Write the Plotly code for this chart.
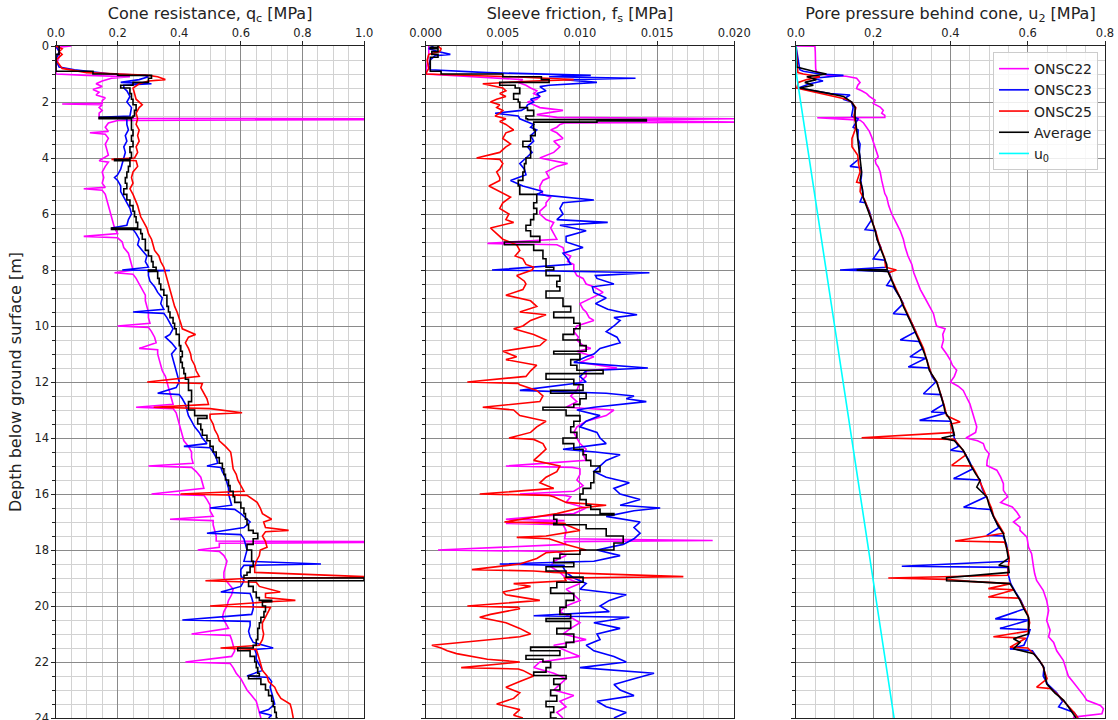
import plotly.graph_objects as go

# ---------------- data: (depth [m], value [MPa]) ----------------
QC_ONSC22 = [(0,0.05),(0.05,0.0),(0.15,0.01),(0.4,0.01),(0.7,0.0),(1.0,0.0),(1.05,0.1),(1.1,0.24),(1.15,0.18),(1.25,0.15),(1.35,0.13),(1.45,0.15),(1.55,0.12),(1.65,0.14),(1.75,0.13),(1.85,0.16),(1.95,0.15),(2.05,0.15),(2.07,0.02),(2.1,0.15),(2.2,0.14),(2.3,0.15),(2.4,0.14),(2.5,0.14),(2.58,0.14),(2.6,1.0),(2.63,1.0),(2.66,0.2),(2.75,0.17),(2.9,0.16),(3.05,0.17),(3.1,0.11),(3.15,0.16),(3.3,0.17),(3.5,0.16),(3.7,0.165),(3.9,0.17),(4.1,0.14),(4.15,0.17),(4.3,0.16),(4.5,0.15),(4.7,0.155),(4.9,0.15),(5.05,0.16),(5.1,0.09),(5.15,0.15),(5.3,0.16),(5.5,0.165),(5.7,0.17),(5.9,0.175),(6.1,0.18),(6.3,0.185),(6.5,0.19),(6.7,0.2),(6.8,0.09),(6.85,0.2),(7.0,0.215),(7.2,0.22),(7.4,0.235),(7.6,0.24),(7.8,0.245),(8.0,0.25),(8.1,0.19),(8.15,0.25),(8.3,0.26),(8.5,0.27),(8.7,0.28),(8.9,0.29),(9.1,0.29),(9.3,0.295),(9.5,0.3),(9.7,0.3),(9.9,0.305),(10.0,0.2),(10.05,0.3),(10.2,0.31),(10.4,0.32),(10.6,0.325),(10.8,0.27),(10.85,0.33),(11.0,0.33),(11.2,0.335),(11.4,0.34),(11.6,0.345),(11.8,0.355),(12.0,0.36),(12.2,0.365),(12.4,0.37),(12.6,0.375),(12.8,0.38),(12.9,0.26),(12.95,0.38),(13.1,0.39),(13.3,0.395),(13.5,0.4),(13.7,0.405),(13.9,0.41),(14.1,0.415),(14.3,0.43),(14.5,0.44),(14.7,0.44),(14.9,0.445),(15.0,0.3),(15.05,0.44),(15.2,0.455),(15.4,0.47),(15.6,0.475),(15.8,0.48),(16.0,0.31),(16.05,0.48),(16.2,0.49),(16.4,0.5),(16.6,0.5),(16.8,0.51),(16.9,0.37),(16.95,0.51),(17.1,0.51),(17.3,0.515),(17.5,0.52),(17.68,0.52),(17.7,1.0),(17.73,1.0),(17.76,0.53),(17.9,0.53),(18.0,0.46),(18.05,0.53),(18.2,0.545),(18.4,0.555),(18.6,0.55),(18.8,0.545),(19.0,0.545),(19.2,0.56),(19.4,0.575),(19.6,0.57),(19.8,0.56),(20.0,0.555),(20.2,0.545),(20.4,0.54),(20.6,0.55),(20.8,0.56),(21.0,0.44),(21.05,0.565),(21.2,0.57),(21.4,0.575),(21.6,0.58),(21.8,0.57),(22.0,0.42),(22.05,0.565),(22.2,0.575),(22.4,0.585),(22.6,0.6),(22.8,0.61),(23.0,0.62),(23.2,0.635),(23.4,0.65),(23.6,0.655),(23.8,0.66),(24.0,0.665)]

QC_ONSC23 = [(0,0.0),(0.2,0.01),(0.5,0.0),(0.75,0.01),(0.85,0.06),(0.9,0.1),(1.0,0.18),(1.05,0.29),(1.1,0.3),(1.2,0.27),(1.3,0.21),(1.35,0.31),(1.4,0.22),(1.5,0.22),(1.6,0.23),(1.8,0.24),(2.0,0.23),(2.2,0.245),(2.4,0.24),(2.5,0.24),(2.55,0.14),(2.6,0.23),(2.8,0.23),(3.0,0.235),(3.2,0.225),(3.4,0.23),(3.6,0.22),(3.8,0.225),(4.0,0.22),(4.2,0.215),(4.4,0.21),(4.6,0.2),(4.7,0.19),(4.8,0.2),(5.0,0.21),(5.2,0.21),(5.4,0.22),(5.6,0.23),(5.8,0.24),(6.0,0.245),(6.2,0.235),(6.4,0.23),(6.5,0.18),(6.55,0.25),(6.7,0.26),(6.9,0.27),(7.1,0.265),(7.3,0.28),(7.5,0.295),(7.7,0.29),(7.9,0.3),(8.0,0.215),(8.02,0.37),(8.05,0.3),(8.2,0.3),(8.4,0.305),(8.6,0.32),(8.8,0.33),(9.0,0.345),(9.2,0.34),(9.4,0.35),(9.5,0.25),(9.55,0.35),(9.7,0.36),(9.9,0.37),(10.1,0.38),(10.3,0.37),(10.4,0.355),(10.6,0.375),(10.8,0.39),(11.0,0.375),(11.2,0.38),(11.4,0.385),(11.6,0.39),(11.8,0.395),(12.0,0.4),(12.2,0.39),(12.4,0.33),(12.45,0.4),(12.6,0.41),(12.8,0.42),(13.0,0.425),(13.2,0.43),(13.4,0.44),(13.6,0.45),(13.8,0.465),(14.0,0.475),(14.2,0.49),(14.3,0.415),(14.35,0.5),(14.5,0.51),(14.7,0.52),(14.9,0.525),(15.0,0.49),(15.05,0.535),(15.2,0.54),(15.4,0.55),(15.6,0.555),(15.8,0.56),(16.0,0.56),(16.2,0.565),(16.4,0.57),(16.5,0.5),(16.55,0.58),(16.7,0.6),(16.9,0.62),(17.0,0.63),(17.2,0.61),(17.4,0.49),(17.45,0.6),(17.6,0.61),(17.8,0.615),(18.0,0.62),(18.2,0.615),(18.4,0.61),(18.5,0.86),(18.55,0.61),(18.7,0.6),(18.9,0.6),(19.1,0.61),(19.3,0.6),(19.5,0.535),(19.55,0.63),(19.7,0.635),(19.9,0.64),(20.1,0.64),(20.3,0.635),(20.5,0.41),(20.55,0.63),(20.7,0.63),(20.9,0.625),(21.1,0.63),(21.3,0.64),(21.5,0.705),(21.55,0.645),(21.7,0.65),(21.9,0.65),(22.1,0.66),(22.3,0.67),(22.5,0.62),(22.55,0.69),(22.7,0.7),(22.9,0.695),(23.1,0.7),(23.3,0.705),(23.5,0.71),(23.7,0.69),(23.8,0.66),(23.9,0.7),(24.0,0.69)]

QC_ONSC25 = [(0,0.0),(0.1,0.02),(0.2,0.01),(0.3,0.02),(0.5,0.0),(0.8,0.02),(0.95,0.1),(1.05,0.3),(1.1,0.33),(1.2,0.355),(1.25,0.3),(1.35,0.27),(1.5,0.25),(1.7,0.255),(1.9,0.26),(2.1,0.28),(2.2,0.27),(2.4,0.26),(2.6,0.265),(2.8,0.26),(3.0,0.27),(3.2,0.265),(3.4,0.27),(3.6,0.26),(3.8,0.265),(4.0,0.255),(4.05,0.18),(4.1,0.26),(4.3,0.265),(4.5,0.25),(4.7,0.245),(4.9,0.25),(5.1,0.24),(5.3,0.25),(5.5,0.258),(5.7,0.265),(5.9,0.27),(6.1,0.275),(6.3,0.285),(6.5,0.295),(6.7,0.3),(6.9,0.31),(7.1,0.315),(7.3,0.32),(7.5,0.334),(7.7,0.34),(7.9,0.35),(8.1,0.355),(8.3,0.36),(8.5,0.366),(8.7,0.37),(8.9,0.377),(9.1,0.38),(9.3,0.385),(9.5,0.393),(9.7,0.4),(9.9,0.405),(10.1,0.41),(10.3,0.453),(10.4,0.43),(10.6,0.42),(10.8,0.43),(11.0,0.437),(11.2,0.44),(11.4,0.45),(11.6,0.455),(11.8,0.465),(12.0,0.296),(12.05,0.475),(12.2,0.47),(12.4,0.48),(12.6,0.49),(12.8,0.495),(12.9,0.317),(12.95,0.5),(13.1,0.604),(13.15,0.5),(13.3,0.5),(13.5,0.51),(13.7,0.515),(13.9,0.525),(14.1,0.53),(14.3,0.55),(14.5,0.567),(14.7,0.57),(14.9,0.572),(15.1,0.575),(15.3,0.585),(15.5,0.59),(15.7,0.6),(15.9,0.61),(16.0,0.404),(16.05,0.62),(16.3,0.653),(16.5,0.663),(16.7,0.67),(16.9,0.7),(17.0,0.674),(17.2,0.68),(17.3,0.755),(17.35,0.68),(17.5,0.67),(17.7,0.68),(17.9,0.685),(18.0,0.663),(18.2,0.66),(18.4,0.65),(18.6,0.645),(18.8,0.645),(18.95,1.0),(18.98,1.0),(19.0,0.64),(19.1,0.485),(19.15,0.65),(19.3,0.66),(19.5,0.728),(19.55,0.68),(19.7,0.68),(19.8,0.777),(19.85,0.69),(20.0,0.5),(20.05,0.696),(20.2,0.69),(20.4,0.68),(20.6,0.67),(20.8,0.67),(21.0,0.674),(21.2,0.67),(21.4,0.66),(21.5,0.534),(21.55,0.65),(21.7,0.655),(21.9,0.66),(22.1,0.665),(22.3,0.67),(22.5,0.685),(22.7,0.69),(22.9,0.71),(23.1,0.718),(23.3,0.73),(23.5,0.76),(23.7,0.765),(23.9,0.77),(24.0,0.77)]

QC_AVERAGE = [(0,0.01),(0.2,0.01),(0.3,0.0),(0.75,0.0),(0.9,0.12),(1.0,0.2),(1.05,0.31),(1.15,0.3),(1.3,0.25),(1.4,0.21),(1.5,0.24),(1.7,0.245),(1.9,0.25),(2.1,0.26),(2.3,0.255),(2.5,0.25),(2.55,0.14),(2.6,0.245),(2.8,0.245),(3.0,0.25),(3.2,0.245),(3.4,0.25),(3.6,0.24),(3.8,0.245),(4.0,0.24),(4.05,0.19),(4.1,0.24),(4.3,0.235),(4.5,0.23),(4.7,0.225),(4.9,0.23),(5.1,0.22),(5.3,0.23),(5.5,0.24),(5.7,0.25),(5.9,0.255),(6.1,0.26),(6.3,0.265),(6.5,0.18),(6.55,0.275),(6.7,0.28),(6.9,0.29),(7.1,0.29),(7.3,0.3),(7.5,0.31),(7.7,0.315),(7.9,0.325),(8.0,0.3),(8.05,0.33),(8.3,0.335),(8.5,0.34),(8.7,0.35),(8.9,0.36),(9.1,0.36),(9.3,0.365),(9.5,0.37),(9.7,0.38),(9.9,0.385),(10.1,0.39),(10.3,0.4),(10.5,0.4),(10.7,0.405),(10.9,0.41),(11.1,0.405),(11.3,0.41),(11.5,0.415),(11.7,0.42),(11.9,0.43),(12.1,0.43),(12.3,0.44),(12.5,0.44),(12.7,0.43),(12.9,0.43),(13.0,0.45),(13.2,0.49),(13.3,0.46),(13.5,0.47),(13.7,0.475),(13.9,0.49),(14.1,0.5),(14.3,0.51),(14.5,0.52),(14.7,0.53),(14.9,0.54),(15.1,0.545),(15.3,0.55),(15.5,0.56),(15.7,0.565),(15.9,0.575),(16.1,0.58),(16.3,0.6),(16.5,0.61),(16.7,0.615),(16.9,0.62),(17.1,0.625),(17.3,0.64),(17.4,0.655),(17.6,0.64),(17.8,0.62),(18.0,0.635),(18.2,0.635),(18.4,0.64),(18.6,0.63),(18.8,0.62),(18.9,0.61),(19.0,1.0),(19.05,1.0),(19.1,0.625),(19.3,0.64),(19.5,0.65),(19.7,0.66),(19.8,0.7),(19.85,0.67),(20.0,0.68),(20.2,0.675),(20.4,0.665),(20.6,0.66),(20.8,0.655),(21.0,0.655),(21.2,0.65),(21.4,0.64),(21.5,0.59),(21.6,0.63),(21.8,0.645),(22.0,0.65),(22.2,0.655),(22.4,0.66),(22.5,0.625),(22.6,0.665),(22.8,0.68),(23.0,0.69),(23.2,0.7),(23.4,0.705),(23.6,0.71),(23.8,0.715),(24.0,0.72)]

FS_ONSC22 = [(0,0.0002),(0.3,0.0002),(0.6,0.0001),(0.9,0.0),(1.0,0.0),(1.1,0.003),(1.2,0.0063),(1.3,0.006),(1.4,0.0065),(1.5,0.0068),(1.6,0.0072),(1.7,0.007),(1.8,0.0074),(1.9,0.0072),(2.0,0.0066),(2.1,0.007),(2.2,0.0074),(2.3,0.0089),(2.4,0.0078),(2.45,0.0072),(2.55,0.0085),(2.6,0.02),(2.65,0.0115),(2.72,0.02),(2.75,0.009),(2.8,0.0087),(2.9,0.0085),(3.0,0.0081),(3.1,0.0085),(3.3,0.0089),(3.4,0.0083),(3.6,0.0087),(3.8,0.0083),(4.0,0.0074),(4.2,0.0092),(4.3,0.0085),(4.5,0.0078),(4.7,0.008),(4.8,0.0076),(5.0,0.0074),(5.1,0.0074),(5.3,0.0076),(5.4,0.0081),(5.6,0.0078),(5.7,0.0078),(5.9,0.0074),(6.0,0.0074),(6.2,0.0078),(6.3,0.0083),(6.5,0.0081),(6.7,0.0083),(6.9,0.0085),(7.05,0.004),(7.1,0.0085),(7.2,0.0089),(7.4,0.009),(7.5,0.0094),(7.7,0.0092),(7.8,0.0096),(8.0,0.0096),(8.2,0.0098),(8.3,0.0102),(8.5,0.0104),(8.6,0.0109),(8.8,0.0115),(9.0,0.0107),(9.2,0.01),(9.4,0.0102),(9.5,0.0104),(9.7,0.0106),(9.8,0.0109),(10.0,0.0098),(10.2,0.0096),(10.4,0.0099),(10.5,0.0098),(10.7,0.0102),(10.8,0.0107),(10.9,0.0098),(11.1,0.0109),(11.3,0.01),(11.5,0.0124),(11.6,0.0104),(11.8,0.0104),(12.0,0.01),(12.3,0.0098),(12.5,0.0094),(12.7,0.0098),(12.9,0.0091),(13.0,0.0122),(13.2,0.0117),(13.4,0.0104),(13.6,0.0098),(13.8,0.0096),(14.0,0.0098),(14.2,0.01),(14.4,0.0104),(14.6,0.0102),(14.8,0.0104),(15.0,0.0052),(15.05,0.0095),(15.1,0.01),(15.3,0.01),(15.5,0.0098),(15.7,0.0102),(15.9,0.0096),(16.0,0.0061),(16.05,0.009),(16.1,0.0094),(16.3,0.0091),(16.5,0.0104),(16.7,0.0096),(16.9,0.0052),(16.95,0.009),(17.05,0.0052),(17.1,0.0089),(17.3,0.0091),(17.6,0.009),(17.66,0.0186),(17.7,0.009),(17.8,0.0091),(18.0,0.0008),(18.05,0.0085),(18.2,0.0091),(18.4,0.0083),(18.6,0.0081),(18.8,0.0087),(19.0,0.0091),(19.2,0.01),(19.4,0.0091),(19.6,0.0096),(19.8,0.01),(20.0,0.0091),(20.2,0.0087),(20.4,0.0094),(20.6,0.01),(20.8,0.0094),(21.0,0.0089),(21.2,0.0104),(21.4,0.0083),(21.6,0.0091),(21.8,0.01),(22.0,0.0074),(22.2,0.007),(22.4,0.0083),(22.6,0.0091),(22.8,0.0087),(23.0,0.0083),(23.2,0.0096),(23.4,0.0087),(23.6,0.0091),(23.8,0.0085),(24.0,0.0089)]

FS_ONSC23 = [(0,0.0005),(0.1,0.0002),(0.2,0.0008),(0.3,0.0016),(0.35,0.0006),(0.5,0.0003),(0.7,0.0002),(0.85,0.0003),(0.95,0.004),(1.05,0.0107),(1.1,0.008),(1.15,0.0136),(1.2,0.009),(1.3,0.0111),(1.4,0.008),(1.45,0.0074),(1.6,0.0078),(1.7,0.0072),(1.8,0.0074),(1.9,0.0068),(2.0,0.007),(2.1,0.0066),(2.2,0.0065),(2.3,0.0062),(2.4,0.0045),(2.5,0.006),(2.6,0.0061),(2.7,0.0066),(2.8,0.007),(2.9,0.0068),(3.0,0.0072),(3.2,0.0068),(3.4,0.007),(3.6,0.0066),(3.8,0.0069),(4.0,0.0065),(4.2,0.0061),(4.4,0.0064),(4.6,0.0065),(4.8,0.0055),(5.0,0.0063),(5.2,0.0076),(5.3,0.0072),(5.5,0.0109),(5.6,0.0089),(5.8,0.0087),(6.0,0.0089),(6.2,0.0085),(6.3,0.0118),(6.4,0.0087),(6.6,0.0104),(6.8,0.0091),(7.0,0.0091),(7.2,0.0102),(7.4,0.0089),(7.6,0.0092),(7.8,0.0094),(8.0,0.0043),(8.05,0.009),(8.1,0.0145),(8.2,0.011),(8.3,0.0111),(8.5,0.0122),(8.6,0.0108),(8.8,0.0109),(9.0,0.0117),(9.2,0.011),(9.4,0.0118),(9.5,0.0126),(9.6,0.0137),(9.7,0.0122),(9.8,0.0126),(10.0,0.0122),(10.2,0.0117),(10.4,0.0124),(10.6,0.0126),(10.8,0.0113),(11.0,0.0109),(11.1,0.0104),(11.3,0.0096),(11.5,0.0144),(11.6,0.0104),(11.8,0.01),(12.0,0.0104),(12.3,0.0061),(12.4,0.0117),(12.5,0.0135),(12.6,0.013),(12.7,0.0143),(12.9,0.0109),(13.0,0.0098),(13.2,0.0113),(13.4,0.0104),(13.6,0.01),(13.8,0.0111),(14.0,0.0113),(14.2,0.0117),(14.4,0.0089),(14.5,0.011),(14.6,0.0126),(14.8,0.0117),(15.0,0.0113),(15.2,0.0109),(15.4,0.0117),(15.6,0.0132),(15.8,0.0122),(16.0,0.0126),(16.2,0.0139),(16.4,0.0126),(16.5,0.0152),(16.6,0.0135),(16.8,0.0117),(17.0,0.0139),(17.2,0.0135),(17.4,0.0139),(17.6,0.0135),(17.8,0.0128),(18.0,0.0111),(18.2,0.0126),(18.4,0.0109),(18.5,0.0048),(18.55,0.009),(18.6,0.0089),(18.8,0.0091),(19.0,0.0096),(19.2,0.0104),(19.4,0.01),(19.6,0.013),(19.8,0.0119),(20.0,0.0113),(20.2,0.0119),(20.35,0.007),(20.4,0.0132),(20.6,0.0109),(20.8,0.0126),(21.0,0.0111),(21.2,0.0113),(21.4,0.0104),(21.6,0.0109),(21.8,0.0122),(22.0,0.013),(22.2,0.01),(22.4,0.0148),(22.6,0.0135),(22.8,0.0122),(23.0,0.0126),(23.2,0.0135),(23.4,0.0111),(23.6,0.0117),(23.8,0.013),(24.0,0.0122)]

FS_ONSC25 = [(0,0.0008),(0.1,0.001),(0.2,0.0009),(0.3,0.0002),(0.5,0.0001),(0.8,0.0002),(1.0,0.0),(1.1,0.0057),(1.2,0.0096),(1.25,0.007),(1.35,0.0037),(1.45,0.0046),(1.5,0.005),(1.6,0.0052),(1.7,0.0048),(1.8,0.0052),(1.9,0.0046),(2.0,0.0042),(2.1,0.0048),(2.2,0.0046),(2.3,0.005),(2.4,0.0048),(2.5,0.0045),(2.6,0.0052),(2.7,0.0048),(2.8,0.0052),(3.0,0.0057),(3.1,0.0052),(3.3,0.005),(3.5,0.0055),(3.6,0.0052),(3.8,0.0048),(4.0,0.0033),(4.05,0.0048),(4.2,0.005),(4.4,0.0048),(4.5,0.0046),(4.7,0.0048),(4.8,0.0048),(5.0,0.0041),(5.2,0.0048),(5.4,0.0055),(5.6,0.005),(5.8,0.0048),(6.0,0.0054),(6.2,0.0052),(6.3,0.0057),(6.5,0.0042),(6.7,0.0046),(6.9,0.005),(7.1,0.0059),(7.3,0.0061),(7.5,0.0058),(7.6,0.0063),(7.8,0.0065),(7.9,0.007),(8.0,0.0069),(8.2,0.0059),(8.4,0.0064),(8.5,0.0065),(8.7,0.0063),(8.9,0.0052),(9.1,0.0068),(9.3,0.0072),(9.5,0.0061),(9.6,0.0078),(9.8,0.0068),(10.0,0.0063),(10.1,0.0057),(10.3,0.007),(10.5,0.0078),(10.7,0.0074),(10.9,0.005),(11.1,0.0059),(11.2,0.0052),(11.4,0.0072),(11.6,0.0068),(11.8,0.0065),(12.0,0.0027),(12.05,0.006),(12.1,0.0061),(12.3,0.0072),(12.5,0.0076),(12.7,0.0074),(12.9,0.0037),(13.0,0.0057),(13.2,0.0061),(13.4,0.0078),(13.6,0.0072),(13.8,0.0068),(14.0,0.0054),(14.05,0.007),(14.2,0.0076),(14.4,0.0078),(14.6,0.0074),(14.8,0.007),(15.0,0.0087),(15.2,0.0085),(15.4,0.0078),(15.6,0.0074),(15.8,0.0083),(16.0,0.0035),(16.05,0.008),(16.1,0.0083),(16.3,0.0091),(16.4,0.0117),(16.5,0.01),(16.7,0.0085),(17.0,0.0051),(17.05,0.009),(17.1,0.0091),(17.3,0.01),(17.5,0.0078),(17.55,0.0059),(17.6,0.008),(17.8,0.0091),(18.0,0.0104),(18.1,0.0078),(18.3,0.0072),(18.5,0.0061),(18.7,0.003),(18.75,0.007),(18.8,0.0083),(18.95,0.0167),(19.0,0.009),(19.1,0.0091),(19.2,0.0057),(19.3,0.0068),(19.5,0.005),(19.6,0.0052),(19.8,0.0074),(20.0,0.0027),(20.05,0.006),(20.1,0.0061),(20.3,0.0042),(20.4,0.0035),(20.6,0.0052),(20.8,0.0061),(21.0,0.0068),(21.1,0.0061),(21.4,0.0004),(21.5,0.001),(21.6,0.0014),(21.7,0.002),(21.9,0.004),(22.0,0.0061),(22.2,0.0023),(22.25,0.006),(22.3,0.0063),(22.5,0.007),(22.7,0.0061),(22.9,0.0052),(23.1,0.0061),(23.3,0.0057),(23.5,0.0046),(23.7,0.0061),(23.9,0.0057),(24.0,0.0063)]

FS_AVERAGE = [(0,0.0008),(0.05,0.0003),(0.1,0.0008),(0.2,0.0004),(0.3,0.0008),(0.4,0.0003),(0.8,0.0003),(0.9,0.001),(1.0,0.005),(1.1,0.0075),(1.2,0.008),(1.3,0.0048),(1.4,0.0058),(1.5,0.0061),(1.7,0.0057),(1.9,0.006),(2.0,0.0061),(2.2,0.0066),(2.3,0.007),(2.5,0.0065),(2.6,0.0066),(2.63,0.0143),(2.68,0.0111),(2.72,0.007),(2.8,0.007),(3.0,0.0071),(3.2,0.0068),(3.4,0.0063),(3.6,0.0068),(3.8,0.0068),(4.0,0.0065),(4.2,0.0064),(4.5,0.0063),(4.8,0.006),(5.0,0.0061),(5.3,0.0072),(5.6,0.007),(5.8,0.0072),(6.0,0.007),(6.2,0.0068),(6.4,0.0065),(6.6,0.0068),(6.8,0.0074),(7.0,0.0051),(7.1,0.007),(7.3,0.0076),(7.6,0.0078),(7.9,0.0083),(8.0,0.0078),(8.2,0.0087),(8.4,0.0085),(8.6,0.0087),(8.75,0.0078),(9.0,0.0089),(9.3,0.0094),(9.5,0.0083),(9.7,0.0096),(9.9,0.01),(10.1,0.0096),(10.3,0.0089),(10.5,0.01),(10.7,0.0104),(10.9,0.0083),(11.0,0.01),(11.2,0.0094),(11.4,0.0098),(11.58,0.0115),(11.7,0.0078),(11.9,0.0096),(12.1,0.0102),(12.3,0.0081),(12.4,0.0104),(12.6,0.01),(12.8,0.0096),(12.9,0.0076),(13.0,0.0091),(13.2,0.01),(13.4,0.0096),(13.6,0.0094),(13.8,0.0098),(14.0,0.0089),(14.2,0.0096),(14.4,0.0102),(14.6,0.0104),(14.8,0.0107),(15.0,0.0113),(15.2,0.0109),(15.4,0.0109),(15.6,0.0107),(15.8,0.0102),(16.0,0.01),(16.2,0.0104),(16.4,0.0107),(16.55,0.0113),(16.7,0.0122),(16.75,0.0083),(16.9,0.0085),(17.05,0.0083),(17.1,0.0104),(17.24,0.0117),(17.5,0.0128),(17.75,0.0122),(18.0,0.01),(18.15,0.0087),(18.3,0.0083),(18.45,0.0096),(18.6,0.0078),(18.75,0.0091),(18.97,0.0102),(19.15,0.0085),(19.35,0.0081),(19.55,0.0096),(19.8,0.0091),(20.05,0.0087),(20.3,0.0094),(20.45,0.0078),(20.55,0.0094),(20.8,0.0085),(21.0,0.0096),(21.3,0.0091),(21.47,0.0068),(21.6,0.0087),(21.77,0.0065),(21.9,0.0076),(22.0,0.0081),(22.2,0.0078),(22.36,0.007),(22.48,0.0091),(22.6,0.0083),(22.8,0.0087),(23.0,0.0081),(23.2,0.0085),(23.4,0.0078),(23.6,0.0083),(23.8,0.0081),(24.0,0.0085)]

U2_ONSC22 = [(0,0.0),(0.01,0.049),(0.2,0.05),(0.5,0.05),(0.8,0.051),(0.93,0.053),(1.0,0.067),(1.05,0.085),(1.08,0.13),(1.15,0.157),(1.3,0.166),(1.4,0.16),(1.52,0.157),(1.6,0.17),(1.7,0.183),(1.8,0.19),(1.94,0.205),(2.05,0.2),(2.18,0.218),(2.3,0.226),(2.4,0.222),(2.48,0.23),(2.55,0.23),(2.56,0.055),(2.6,0.1),(2.65,0.166),(2.75,0.175),(2.89,0.183),(3.05,0.19),(3.25,0.196),(3.4,0.2),(3.6,0.205),(3.8,0.21),(3.96,0.213),(4.08,0.205),(4.2,0.207),(4.32,0.213),(4.5,0.218),(4.8,0.222),(5.0,0.226),(5.27,0.23),(5.4,0.235),(5.7,0.24),(6.0,0.248),(6.3,0.26),(6.6,0.27),(6.9,0.278),(7.2,0.283),(7.5,0.29),(7.8,0.3),(8.1,0.305),(8.4,0.313),(8.7,0.322),(9.0,0.334),(9.3,0.347),(9.56,0.356),(9.8,0.36),(10.0,0.364),(10.1,0.386),(10.3,0.38),(10.5,0.382),(10.75,0.377),(11.0,0.39),(11.23,0.4),(11.4,0.405),(11.58,0.416),(11.8,0.41),(12.0,0.4),(12.15,0.42),(12.3,0.433),(12.5,0.44),(12.77,0.45),(13.0,0.455),(13.25,0.46),(13.6,0.468),(13.8,0.465),(14.0,0.44),(14.1,0.47),(14.2,0.485),(14.4,0.49),(14.56,0.5),(14.8,0.495),(14.98,0.494),(15.15,0.52),(15.4,0.53),(15.63,0.537),(15.87,0.537),(16.1,0.548),(16.3,0.53),(16.46,0.56),(16.65,0.572),(16.82,0.58),(17.0,0.563),(17.18,0.58),(17.3,0.58),(17.54,0.598),(17.9,0.602),(18.13,0.61),(18.4,0.612),(18.61,0.615),(18.85,0.618),(19.09,0.623),(19.44,0.64),(19.8,0.649),(20.16,0.654),(20.52,0.649),(20.87,0.658),(21.1,0.654),(21.3,0.667),(21.6,0.675),(21.94,0.692),(22.3,0.7),(22.5,0.705),(22.72,0.718),(23.02,0.736),(23.2,0.745),(23.37,0.753),(23.55,0.788),(23.67,0.796),(23.85,0.792),(23.97,0.718),(24.0,0.72)]

U2_ONSC23 = [(0,0.0),(0.85,0.01),(0.9,0.019),(1.0,0.062),(1.05,0.123),(1.15,0.045),(1.25,0.07),(1.35,0.036),(1.5,0.006),(1.6,0.045),(1.7,0.088),(1.75,0.14),(1.9,0.122),(2.0,0.144),(2.2,0.148),(2.5,0.144),(2.6,0.161),(2.9,0.148),(3.0,0.161),(3.3,0.16),(3.5,0.166),(3.8,0.164),(4.0,0.166),(4.3,0.14),(4.35,0.168),(4.6,0.17),(4.8,0.168),(5.0,0.17),(5.3,0.174),(5.57,0.166),(5.6,0.18),(5.9,0.19),(6.2,0.196),(6.56,0.179),(6.6,0.206),(6.9,0.21),(7.2,0.22),(7.6,0.2),(7.65,0.23),(7.9,0.235),(8.0,0.114),(8.05,0.24),(8.3,0.247),(8.55,0.235),(8.6,0.252),(8.9,0.266),(9.2,0.278),(9.56,0.252),(9.6,0.288),(9.9,0.3),(10.2,0.31),(10.5,0.27),(10.55,0.318),(10.8,0.328),(11.1,0.295),(11.15,0.336),(11.46,0.291),(11.5,0.345),(11.8,0.352),(12.0,0.362),(12.42,0.33),(12.45,0.375),(12.8,0.382),(13.07,0.35),(13.1,0.39),(13.37,0.32),(13.4,0.4),(13.7,0.405),(14.0,0.41),(14.3,0.42),(14.44,0.4),(14.5,0.435),(14.8,0.448),(15.1,0.458),(15.45,0.408),(15.5,0.476),(15.8,0.482),(16.1,0.492),(16.47,0.434),(16.52,0.468),(16.55,0.503),(16.9,0.515),(17.2,0.525),(17.48,0.494),(17.5,0.536),(17.8,0.545),(18.1,0.548),(18.4,0.552),(18.58,0.274),(18.62,0.548),(18.9,0.55),(19.2,0.556),(19.5,0.568),(19.8,0.582),(20.1,0.592),(20.46,0.516),(20.5,0.604),(20.8,0.528),(20.85,0.606),(21.1,0.6),(21.4,0.59),(21.53,0.554),(21.6,0.612),(21.9,0.628),(22.2,0.642),(22.5,0.64),(22.8,0.652),(23.1,0.675),(23.4,0.69),(23.6,0.68),(23.8,0.72),(24.0,0.73)]

U2_ONSC25 = [(0,0.0),(0.95,0.005),(1.0,0.019),(1.1,0.062),(1.2,0.028),(1.3,0.006),(1.5,0.002),(1.6,0.036),(1.75,0.079),(1.9,0.131),(2.0,0.144),(2.2,0.155),(2.5,0.15),(2.8,0.155),(3.0,0.153),(3.3,0.145),(3.6,0.145),(3.9,0.16),(4.2,0.162),(4.5,0.166),(4.86,0.157),(4.9,0.168),(5.2,0.166),(5.5,0.178),(5.8,0.186),(6.1,0.194),(6.4,0.2),(6.7,0.208),(7.0,0.214),(7.3,0.222),(7.6,0.23),(7.9,0.232),(8.0,0.26),(8.1,0.24),(8.4,0.25),(8.7,0.26),(9.0,0.272),(9.3,0.28),(9.6,0.29),(9.9,0.3),(10.2,0.31),(10.5,0.32),(10.8,0.33),(11.1,0.336),(11.4,0.342),(11.7,0.35),(12.0,0.365),(12.3,0.372),(12.6,0.38),(12.9,0.385),(13.2,0.39),(13.43,0.425),(13.5,0.4),(13.8,0.408),(13.99,0.17),(14.05,0.41),(14.3,0.425),(14.6,0.44),(14.98,0.403),(15.0,0.456),(15.3,0.468),(15.6,0.478),(15.9,0.486),(16.2,0.496),(16.5,0.506),(16.8,0.512),(17.1,0.525),(17.4,0.538),(17.68,0.412),(17.72,0.54),(18.0,0.548),(18.3,0.552),(18.6,0.55),(18.9,0.548),(19.0,0.239),(19.05,0.39),(19.12,0.45),(19.2,0.556),(19.38,0.498),(19.42,0.565),(19.68,0.498),(19.72,0.578),(20.0,0.588),(20.3,0.6),(20.6,0.605),(20.9,0.6),(21.1,0.511),(21.15,0.595),(21.47,0.554),(21.5,0.6),(21.8,0.622),(22.1,0.638),(22.4,0.645),(22.6,0.65),(22.9,0.623),(22.95,0.66),(23.2,0.68),(23.5,0.7),(23.8,0.72),(24.0,0.73)]

U2_AVERAGE = [(0,0.0),(0.75,0.002),(0.9,0.045),(1.0,0.079),(1.1,0.028),(1.2,0.053),(1.3,0.023),(1.4,0.045),(1.5,0.01),(1.6,0.053),(1.7,0.088),(1.8,0.123),(1.9,0.135),(2.0,0.144),(2.2,0.153),(2.5,0.153),(2.75,0.155),(3.0,0.157),(3.25,0.16),(3.5,0.161),(3.75,0.163),(4.0,0.166),(4.25,0.168),(4.5,0.17),(4.8,0.166),(5.1,0.172),(5.4,0.174),(5.7,0.182),(6.0,0.192),(6.3,0.198),(6.6,0.205),(6.9,0.21),(7.2,0.218),(7.5,0.226),(7.8,0.235),(7.98,0.236),(8.0,0.157),(8.05,0.238),(8.4,0.248),(8.7,0.258),(9.0,0.27),(9.3,0.278),(9.56,0.287),(9.9,0.298),(10.16,0.308),(10.45,0.317),(10.75,0.326),(11.0,0.333),(11.23,0.339),(11.58,0.345),(11.99,0.364),(12.25,0.37),(12.54,0.377),(12.8,0.382),(13.07,0.386),(13.37,0.4),(13.6,0.405),(13.9,0.41),(14.0,0.377),(14.1,0.41),(14.44,0.433),(14.75,0.444),(15.04,0.455),(15.3,0.466),(15.51,0.477),(15.75,0.468),(16.1,0.494),(16.4,0.5),(16.8,0.511),(17.1,0.522),(17.42,0.537),(17.7,0.542),(18.0,0.546),(18.3,0.55),(18.55,0.525),(18.6,0.55),(18.8,0.552),(18.99,0.39),(19.1,0.39),(19.12,0.446),(19.2,0.554),(19.5,0.567),(19.8,0.58),(20.1,0.59),(20.4,0.602),(20.7,0.603),(21.0,0.602),(21.17,0.563),(21.3,0.58),(21.53,0.563),(21.7,0.615),(21.95,0.63),(22.18,0.641),(22.5,0.645),(22.78,0.649),(23.1,0.67),(23.37,0.693),(23.6,0.705),(23.85,0.718),(24.0,0.725)]

U0_HYDROSTATIC = [(0,0.0),(0.9,0.0),(24.0,0.254)]

SERIES_NAMES = ["ONSC22", "ONSC23", "ONSC25", "Average"]
SERIES_COLORS = ["#ff00ff", "#0000ff", "#ff0000", "#000000"]

PANELS = [
    ([QC_ONSC22, QC_ONSC23, QC_ONSC25, QC_AVERAGE], "Cone resistance, q<sub>c</sub> [MPa]", [0, 1.0], 0.2, 0.05, ".1f"),
    ([FS_ONSC22, FS_ONSC23, FS_ONSC25, FS_AVERAGE], "Sleeve friction, f<sub>s</sub> [MPa]", [0, 0.02], 0.005, 0.001, ".3f"),
    ([U2_ONSC22, U2_ONSC23, U2_ONSC25, U2_AVERAGE], "Pore pressure behind cone, u<sub>2</sub> [MPa]", [0, 0.8], 0.2, 0.05, ".1f"),
]
DOMAINS = [[0.0, 0.2937], [0.3524, 0.6466], [0.7054, 1.0]]

FONT = "DejaVu Sans"
TXT = "#222222"

fig = go.Figure()

for i, (series, title, xr, dmaj, dmin, fmt) in enumerate(PANELS):
    sfx = "" if i == 0 else str(i + 1)
    for name, col, pairs in zip(SERIES_NAMES, SERIES_COLORS, series):
        depth = [p[0] for p in pairs]
        val = [p[1] for p in pairs]
        shape = "vh" if (name == "Average" and i < 2) else "linear"
        fig.add_trace(go.Scatter(
            x=val, y=depth, mode="lines", name=name,
            line=dict(color=col, width=1.6, shape=shape),
            xaxis="x" + sfx, yaxis="y" + sfx,
            showlegend=(i == 2), hoverinfo="skip"))
    if i == 2:
        fig.add_trace(go.Scatter(
            x=[p[1] for p in U0_HYDROSTATIC], y=[p[0] for p in U0_HYDROSTATIC],
            mode="lines", name="u<sub>0</sub>",
            line=dict(color="#00ffff", width=1.6),
            xaxis="x3", yaxis="y3", showlegend=True, hoverinfo="skip"))

    fig.layout["xaxis" + sfx] = dict(
        domain=DOMAINS[i], range=xr, side="top", anchor="y" + sfx,
        dtick=dmaj, tick0=0, tickformat=fmt, automargin=False,
        showgrid=True, gridcolor="#8a8a8a", gridwidth=1.3,
        minor=dict(dtick=dmin, tick0=0, showgrid=True, gridcolor="#d2d2d2", gridwidth=1.3),
        showline=True, mirror=True, linecolor="#222222", linewidth=1.2,
        ticks="outside", ticklen=3.5, tickcolor="#222222",
        zeroline=False,
        tickfont=dict(family=FONT, size=11.5, color=TXT),
        title=dict(text=title, font=dict(family=FONT, size=16, color=TXT), standoff=2),
    )
    ydict = dict(
        domain=[0, 1], range=[24, 0], anchor="x" + sfx,
        dtick=2, tick0=0, automargin=False,
        showgrid=True, gridcolor="#8a8a8a", gridwidth=1.3,
        minor=dict(dtick=0.5, tick0=0, showgrid=True, gridcolor="#d2d2d2", gridwidth=1.3,
                   ticks="outside", ticklen=2.5, tickcolor="#222222"),
        showline=True, mirror=True, linecolor="#222222", linewidth=1.2,
        ticks="outside", ticklen=3.5, tickcolor="#222222",
        zeroline=False,
        showticklabels=(i == 0),
        ticklabeloverflow="allow",
        tickfont=dict(family=FONT, size=11.5, color=TXT),
    )
    if i == 0:
        ydict["title"] = dict(text="Depth below ground surface [m]",
                              font=dict(family=FONT, size=16, color=TXT), standoff=8)
    fig.layout["yaxis" + sfx] = ydict

fig.update_layout(
    width=1118, height=720,
    margin=dict(l=56, r=13, t=46, b=2),
    paper_bgcolor="white", plot_bgcolor="white",
    font=dict(family=FONT, color=TXT),
    legend=dict(x=0.9933, y=0.991, xanchor="right", yanchor="top",
                bgcolor="rgba(255,255,255,0.85)", bordercolor="#cccccc", borderwidth=1,
                font=dict(family=FONT, size=14, color=TXT),
                itemwidth=30, tracegroupgap=0),
)

fig.write_html("out.html")
